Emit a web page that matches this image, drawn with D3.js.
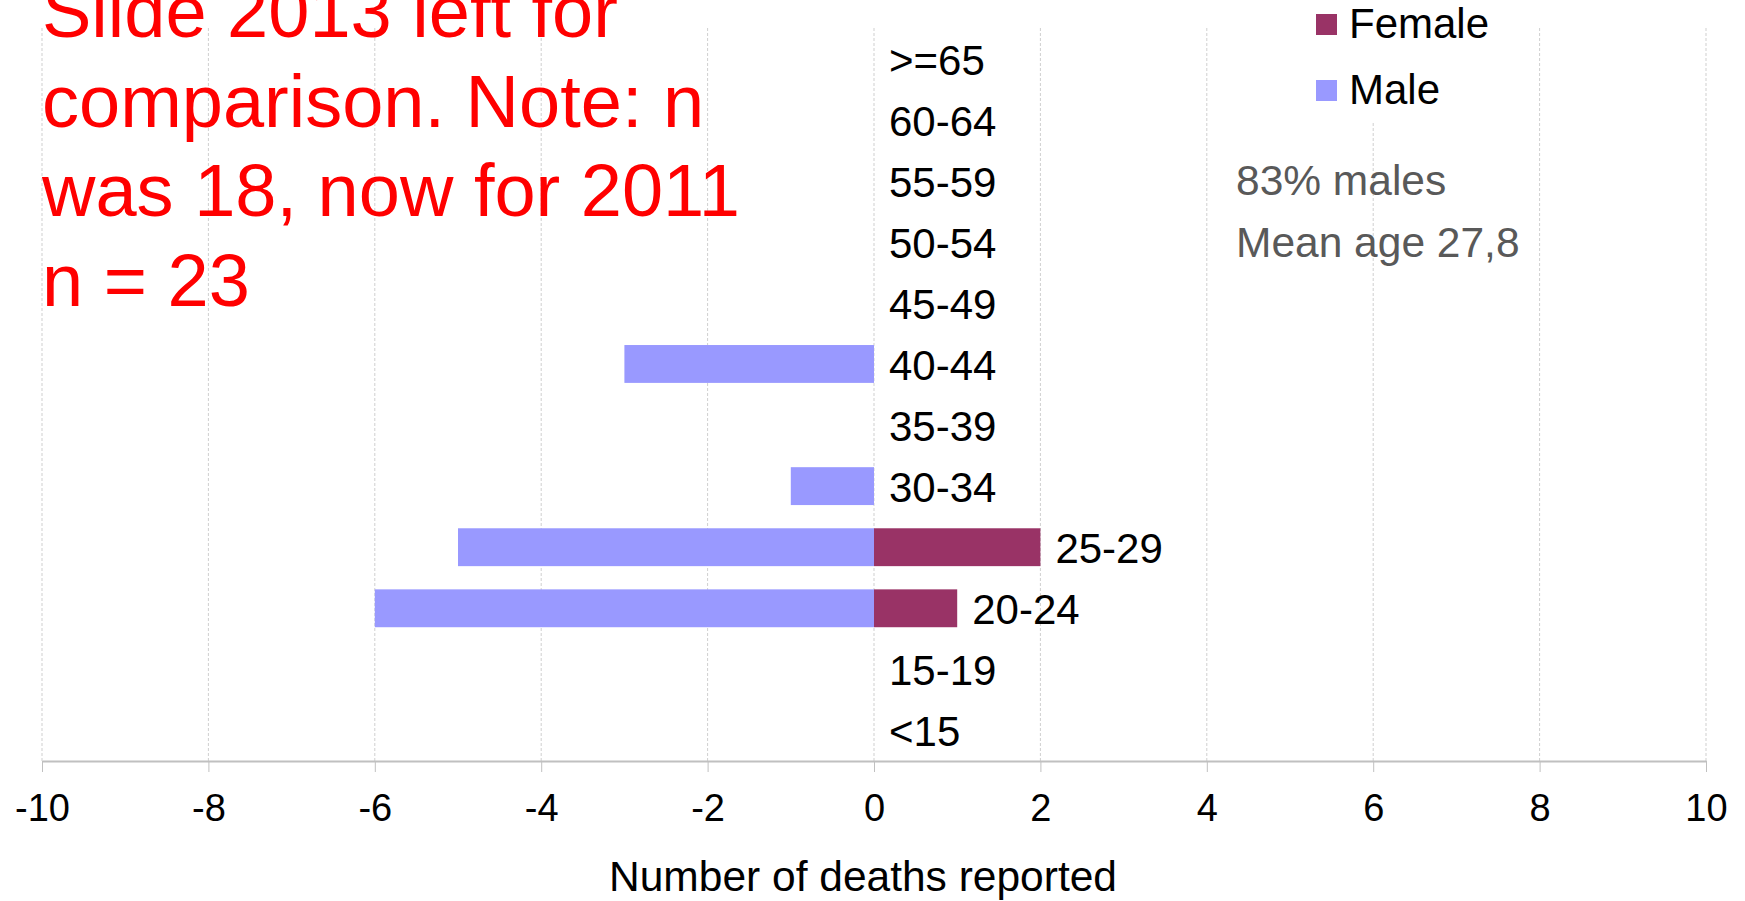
<!DOCTYPE html>
<html>
<head>
<meta charset="utf-8">
<script src="https://cdn.jsdelivr.net/npm/d3@7"></script>
<style>
  body { margin: 0; background: #fff; }
  text { font-family: "Liberation Sans", Arial, sans-serif; }
</style>
</head>
<body>
<script>
const width = 1745;
const height = 901;

// age groups, bottom to top
const ageGroups = ["<15", "15-19", "20-24", "25-29", "30-34", "35-39", "40-44", "45-49", "50-54", "55-59", "60-64", ">=65"];
// deaths per age group (males drawn on the negative side)
const femaleDeaths = [0, 0, 1, 2, 0, 0, 0, 0, 0, 0, 0, 0];
const maleDeaths = [0, 0, -6, -5, -1, 0, -3, 0, 0, 0, 0, 0];
const xTickValues = [-10, -8, -6, -4, -2, 0, 2, 4, 6, 8, 10];
const noteLines = ["Slide 2013 left for", "comparison. Note: n", "was 18, now for 2011", "n = 23"];
const statLines = ["83% males", "Mean age 27,8"];

const svg = d3.select("body")
    .append("svg")
    .attr("width", width)
    .attr("height", height);

svg.append("rect").attr("width", width).attr("height", height).attr("fill", "#fff");

const plotTop = 28, plotBottom = 761;

const x = d3.scaleLinear()
    .domain([-10, 10])
    .range([42, 1706]);

const y = d3.scaleBand()
    .domain(ageGroups.slice().reverse())
    .range([plotTop, plotBottom])
    .paddingInner(0.38)
    .paddingOuter(0.19);

// gridlines
svg.append("g")
    .selectAll("line")
    .data(xTickValues)
    .enter()
    .append("line")
    .attr("x1", d => x(d))
    .attr("x2", d => x(d))
    .attr("y1", plotTop)
    .attr("y2", plotBottom)
    .attr("stroke", "#cfcfcf")
    .attr("stroke-width", 1)
    .attr("stroke-dasharray", "3,2");

// red note (gridlines show through it)
svg.append("text")
    .attr("fill", "#ff0000")
    .style("font-size", "74px")
    .selectAll("tspan")
    .data(noteLines)
    .enter()
    .append("tspan")
    .attr("x", 42)
    .attr("y", (d, i) => 37 + i * 89.5)
    .text(d => d);

// legend box hides the gridline behind it
svg.append("rect")
    .attr("x", 1300).attr("y", 0)
    .attr("width", 235).attr("height", 123)
    .attr("fill", "#fff");

// bars
const rows = ageGroups.map((g, i) => ({ group: g, female: femaleDeaths[i], male: maleDeaths[i] }));

svg.append("g")
    .selectAll("rect")
    .data(rows.filter(d => d.male !== 0))
    .enter()
    .append("rect")
    .attr("x", d => x(d.male))
    .attr("y", d => y(d.group))
    .attr("width", d => x(0) - x(d.male))
    .attr("height", y.bandwidth())
    .attr("fill", "#9999ff");

svg.append("g")
    .selectAll("rect")
    .data(rows.filter(d => d.female !== 0))
    .enter()
    .append("rect")
    .attr("x", x(0))
    .attr("y", d => y(d.group))
    .attr("width", d => x(d.female) - x(0))
    .attr("height", y.bandwidth())
    .attr("fill", "#993366");

// category labels next to the bar end
svg.append("g")
    .selectAll("text")
    .data(rows)
    .enter()
    .append("text")
    .attr("x", d => x(Math.max(0, d.female)) + 15)
    .attr("y", d => y(d.group) + y.bandwidth() / 2 + 16)
    .style("font-size", "42px")
    .attr("fill", "#000")
    .text(d => d.group);

// x axis
const xAxis = svg.append("g")
    .attr("transform", `translate(0,${plotBottom})`)
    .call(d3.axisBottom(x)
        .tickValues(xTickValues)
        .tickFormat(d => String(d))
        .tickSize(11)
        .tickSizeOuter(0));
xAxis.select(".domain").attr("stroke", "#c0c0c0").attr("stroke-width", 2);
xAxis.selectAll(".tick line").attr("stroke", "#c0c0c0").attr("stroke-width", 1);
xAxis.selectAll(".tick text")
    .attr("fill", "#000")
    .attr("dy", null)
    .attr("y", 60)
    .style("font-size", "38px")
    .style("font-family", "'Liberation Sans', Arial, sans-serif");

svg.append("text")
    .attr("x", 863)
    .attr("y", 891)
    .attr("text-anchor", "middle")
    .style("font-size", "42.5px")
    .attr("fill", "#000")
    .text("Number of deaths reported");

// legend
const legendItems = [
    { label: "Female", color: "#993366", y: 14 },
    { label: "Male", color: "#9999ff", y: 80 }
];
const legend = svg.append("g");
legend.selectAll("rect")
    .data(legendItems)
    .enter()
    .append("rect")
    .attr("x", 1316)
    .attr("y", d => d.y)
    .attr("width", 21)
    .attr("height", 21)
    .attr("fill", d => d.color);
legend.selectAll("text")
    .data(legendItems)
    .enter()
    .append("text")
    .attr("x", 1349)
    .attr("y", d => d.y + 24)
    .style("font-size", "42px")
    .attr("fill", "#000")
    .text(d => d.label);

// summary text
svg.append("g")
    .selectAll("text")
    .data(statLines)
    .enter()
    .append("text")
    .attr("x", 1236)
    .attr("y", (d, i) => 195 + i * 62)
    .style("font-size", "42.5px")
    .attr("fill", "#595959")
    .text(d => d);
</script>
</body>
</html>
